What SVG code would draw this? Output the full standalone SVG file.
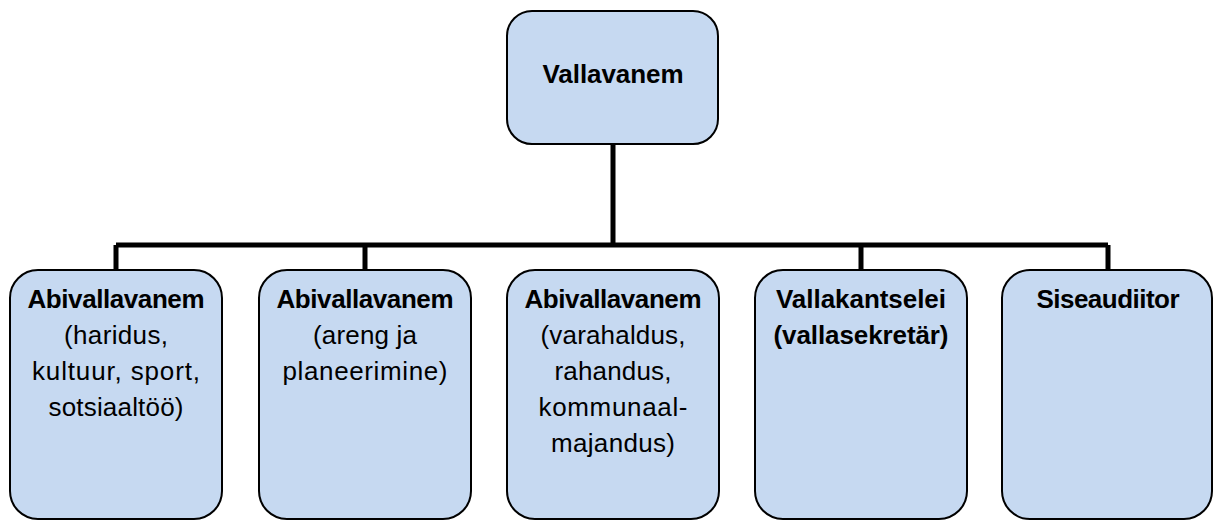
<svg xmlns="http://www.w3.org/2000/svg" width="1213" height="520" viewBox="0 0 1213 520">
<style>
.box{fill:#C6D9F1;stroke:#000;stroke-width:2}
.t{font-family:"Liberation Sans",Arial,sans-serif;font-size:26px;fill:#000;text-anchor:middle}
.b{font-weight:bold}
.c{stroke:#000;stroke-width:5;fill:none}
</style>
<rect width="1213" height="520" fill="#fff"/>
<g id="connectors">
<path class="c" d="M613 144 V245 M116 245 H1108 M116 245 V270 M365 245 V270 M861 245 V270 M1108 245 V270"/>
</g>
<g id="n-vallavanem">
<rect class="box" x="507" y="11" width="211" height="133" rx="25"/>
<text class="t b" x="613" y="83" textLength="141">Vallavanem</text>
</g>
<g id="n-abi1">
<rect class="box" x="10" y="270" width="212" height="249" rx="28"/>
<text class="t b" x="116" y="308" textLength="177">Abivallavanem</text>
<text class="t" x="116" y="344" textLength="104">(haridus,</text>
<text class="t" x="116" y="380" textLength="168">kultuur, sport,</text>
<text class="t" x="116" y="416" textLength="135">sotsiaaltöö)</text>
</g>
<g id="n-abi2">
<rect class="box" x="259" y="270" width="212" height="249" rx="28"/>
<text class="t b" x="365" y="308" textLength="177">Abivallavanem</text>
<text class="t" x="365" y="344" textLength="104">(areng ja</text>
<text class="t" x="365" y="380" textLength="165">planeerimine)</text>
</g>
<g id="n-abi3">
<rect class="box" x="507" y="270" width="212" height="249" rx="28"/>
<text class="t b" x="613" y="308" textLength="177">Abivallavanem</text>
<text class="t" x="613" y="344" textLength="145">(varahaldus,</text>
<text class="t" x="613" y="380" textLength="117">rahandus,</text>
<text class="t" x="613" y="416" textLength="149">kommunaal-</text>
<text class="t" x="613" y="452" textLength="124">majandus)</text>
</g>
<g id="n-kantselei">
<rect class="box" x="755" y="270" width="212" height="249" rx="28"/>
<text class="t b" x="861" y="308" textLength="170">Vallakantselei</text>
<text class="t b" x="861" y="344" textLength="175">(vallasekretär)</text>
</g>
<g id="n-siseaudiitor">
<rect class="box" x="1002" y="270" width="210" height="249" rx="28"/>
<text class="t b" x="1108" y="308" textLength="143">Siseaudiitor</text>
</g>
</svg>
